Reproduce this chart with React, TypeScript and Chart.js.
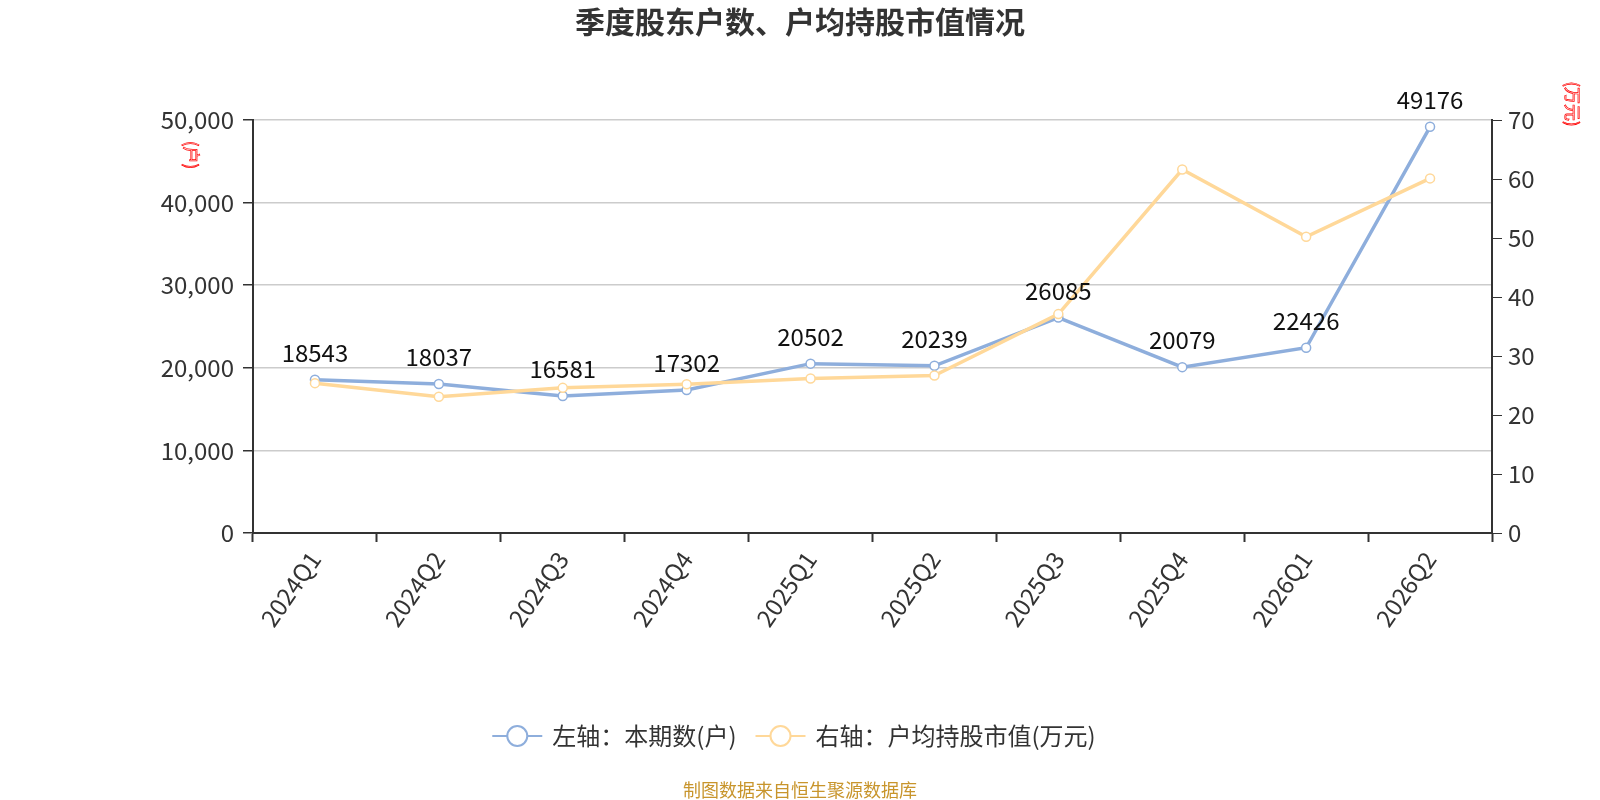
import { useEffect, useRef } from 'react'
import { Chart, registerables } from 'chart.js'

Chart.register(...registerables)

const FONT = '"Noto Sans CJK SC", "Noto Sans", sans-serif'

const quarters = ['2024Q1', '2024Q2', '2024Q3', '2024Q4', '2025Q1', '2025Q2', '2025Q3', '2025Q4', '2026Q1', '2026Q2']
// 左轴：本期数(户)
const holders = [18543, 18037, 16581, 17302, 20502, 20239, 26085, 20079, 22426, 49176]
// 右轴：户均持股市值(万元)
const avgValue = [25.4, 23.1, 24.6, 25.2, 26.2, 26.7, 37.1, 61.6, 50.2, 60.1]

const leftMax = 50000
const leftStep = 10000
const rightMax = 70
const rightStep = 10

const titleText = '季度股东户数、户均持股市值情况'
const legendLabels = ['左轴：本期数(户)', '右轴：户均持股市值(万元)']
const leftUnit = '(户)'
const rightUnit = '(万元)'
const sourceText = '制图数据来自恒生聚源数据库'

const BLUE = '#8eaedc'
const ORANGE = '#ffd899'

const drawRotated = (ctx: CanvasRenderingContext2D, text: string, x: number, y: number) => {
  ctx.save()
  ctx.translate(x, y)
  ctx.rotate(Math.PI / 2)
  ctx.font = `17px ${FONT}`
  ctx.strokeStyle = '#ff0000'
  ctx.lineWidth = 0.7
  ctx.textAlign = 'center'
  ctx.textBaseline = 'middle'
  ctx.strokeText(text, 0, 0)
  ctx.restore()
}

const decorPlugin = {
  id: 'decor',
  afterDatasetsDraw(chart: Chart) {
    const ctx = chart.ctx
    const meta = chart.getDatasetMeta(0)
    ctx.save()
    ctx.font = `24px ${FONT}`
    ctx.fillStyle = '#111'
    ctx.textAlign = 'center'
    ctx.textBaseline = 'middle'
    meta.data.forEach((pt: any, i: number) => {
      ctx.fillText(String(holders[i]), pt.x, pt.y - 27)
    })
    ctx.restore()
  },
  afterDraw(chart: Chart) {
    const ctx = chart.ctx
    ctx.save()

    // title
    ctx.font = `bold 30px ${FONT}`
    ctx.fillStyle = '#333'
    ctx.textAlign = 'center'
    ctx.textBaseline = 'middle'
    ctx.fillText(titleText, 800, 22)

    // axis units
    drawRotated(ctx, leftUnit, 191, 155)
    drawRotated(ctx, rightUnit, 1572, 104)

    // legend
    ctx.font = `24px ${FONT}`
    const colors = [BLUE, ORANGE]
    const widths = legendLabels.map(l => 60 + ctx.measureText(l).width)
    const gap = 19
    let x = 794 - (widths[0] + widths[1] + gap) / 2
    const ly = 736
    legendLabels.forEach((label, i) => {
      ctx.strokeStyle = colors[i]
      ctx.lineWidth = 2
      ctx.beginPath()
      ctx.moveTo(x, ly)
      ctx.lineTo(x + 50, ly)
      ctx.stroke()
      ctx.beginPath()
      ctx.arc(x + 25, ly, 10, 0, Math.PI * 2)
      ctx.fillStyle = '#fff'
      ctx.fill()
      ctx.stroke()
      ctx.fillStyle = '#333'
      ctx.textAlign = 'left'
      ctx.fillText(label, x + 60, ly)
      x += widths[i] + gap
    })

    // source
    ctx.font = `18px ${FONT}`
    ctx.fillStyle = '#c8952c'
    ctx.textAlign = 'center'
    ctx.fillText(sourceText, 800, 790)

    ctx.restore()
  },
}

export default function App() {
  const canvasRef = useRef<HTMLCanvasElement | null>(null)
  const chartRef = useRef<Chart | null>(null)

  useEffect(() => {
    if (!canvasRef.current) return
    if (chartRef.current) chartRef.current.destroy()

    chartRef.current = new Chart(canvasRef.current, {
      type: 'line',
      data: {
        labels: quarters,
        datasets: [
          {
            label: legendLabels[0],
            data: holders,
            yAxisID: 'y',
            borderColor: BLUE,
            backgroundColor: BLUE,
            borderWidth: 3.5,
            pointRadius: 4.5,
            pointBorderWidth: 1.5,
            pointBackgroundColor: '#fff',
            pointBorderColor: BLUE,
            tension: 0,
            order: 1,
          },
          {
            label: legendLabels[1],
            data: avgValue,
            yAxisID: 'y1',
            borderColor: ORANGE,
            backgroundColor: ORANGE,
            borderWidth: 3.5,
            pointRadius: 4.5,
            pointBorderWidth: 1.5,
            pointBackgroundColor: '#fff',
            pointBorderColor: ORANGE,
            tension: 0,
            order: 0,
          },
        ],
      },
      options: {
        animation: false,
        responsive: true,
        maintainAspectRatio: false,
        layout: { padding: { top: 120, bottom: 0, left: 0, right: 0 } },
        plugins: {
          legend: { display: false },
          title: { display: false },
          tooltip: { enabled: false },
        },
        scales: {
          x: {
            offset: true,
            grid: {
              drawOnChartArea: false,
              offset: true,
              tickLength: 9,
              tickColor: '#333',
              tickWidth: 2,
            },
            border: { color: '#333', width: 2 },
            ticks: {
              minRotation: 55,
              maxRotation: 55,
              padding: 4,
              color: '#333',
              font: { family: FONT, size: 24 },
            },
            afterFit: (s: any) => { s.height = 267 },
          },
          y: {
            position: 'left',
            min: 0,
            max: leftMax,
            ticks: {
              stepSize: leftStep,
              padding: 9,
              color: '#333',
              font: { family: FONT, size: 24 },
              callback: (v: any) => Number(v).toLocaleString('en-US'),
            },
            grid: { color: '#cccccc', tickColor: '#333', tickLength: 10, lineWidth: 1.5 },
            border: { color: '#333', width: 2 },
            afterFit: (s: any) => { s.width = 253 },
          },
          y1: {
            position: 'right',
            min: 0,
            max: rightMax,
            ticks: {
              stepSize: rightStep,
              padding: 6,
              color: '#333',
              font: { family: FONT, size: 24 },
            },
            grid: { drawOnChartArea: false, tickColor: '#333', tickLength: 10 },
            border: { color: '#333', width: 2 },
            afterFit: (s: any) => { s.width = 108 },
          },
        },
      },
      plugins: [decorPlugin],
    })

    return () => {
      if (chartRef.current) {
        chartRef.current.destroy()
        chartRef.current = null
      }
    }
  }, [])

  return (
    <div style={{ position: 'fixed', left: 0, top: 0, width: 1600, height: 800, background: '#fff' }}>
      <canvas ref={canvasRef}></canvas>
    </div>
  )
}
